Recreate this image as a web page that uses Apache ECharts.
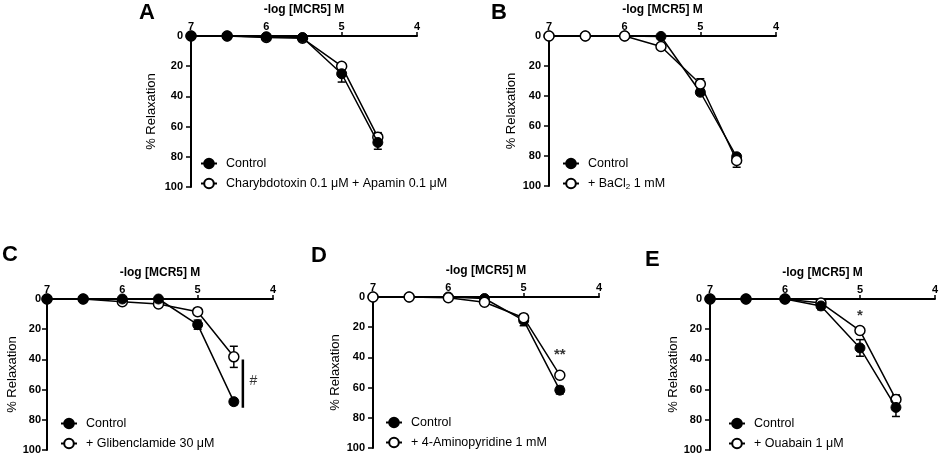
<!DOCTYPE html>
<html lang="en">
<head>
<meta charset="UTF-8">
<title>MCR5 relaxation</title>
<style>html, body { margin: 0; padding: 0; background: #fff; }</style>
</head>
<body>
<div id="main" style="width: 941px; height: 456px;"></div>
<script src="https://cdn.jsdelivr.net/npm/echarts@6/dist/echarts.min.js"></script>
<script type="text/javascript">
// -log [MCR5] M : 1e-7, 3e-7, 1e-6, 3e-6, 1e-5, 3e-5
var logConc = [7, 6.52, 6, 5.52, 5, 4.52];
var panelLetters = ['A', 'B', 'C', 'D', 'E'];
var drugNames = ['Charybdotoxin 0.1 μM + Apamin 0.1 μM', '+ BaCl2 1 mM', '+ Glibenclamide 30 μM',
                 '+ 4-Aminopyridine 1 mM', '+ Ouabain 1 μM'];

// % relaxation (mean) and SEM
var ctrlA = [0, 0, 0.5, 1, 25, 70.5];
var ctrlErrA = [0, 0, 0.5, 0.5, 5.5, 4.5];
var drugA = [0, 0, 1, 1.5, 20, 67];
var drugErrA = [0, 0, 0.5, 0.5, 1.5, 3];

var ctrlB = [0, 0, 0, 0.3, 37.5, 80.5];
var ctrlErrB = [0, 0, 0, 0.5, 2, 2];
var drugB = [0, 0, 0, 7, 32, 83];
var drugErrB = [0, 0, 0, 1, 3.5, 4.5];

var ctrlC = [0, 0, 0, 0, 17, 68];
var ctrlErrC = [0, 0, 0, 0.5, 3, 2];
var drugC = [0, 0, 1.8, 3.3, 8.4, 38.3];
var drugErrC = [0, 0, 0.5, 1, 2, 7];

var ctrlD = [0, 0, 0, 1, 15.5, 61.7];
var ctrlErrD = [0, 0, 0, 0.5, 3.5, 2.5];
var drugD = [0, 0, 0.5, 3.5, 13.7, 51.8];
var drugErrD = [0, 0, 0.5, 1, 2, 1.5];

var ctrlE = [0, 0, 0, 4.6, 32.4, 71.8];
var ctrlErrE = [0, 0, 0, 2.5, 5.5, 6];
var drugE = [0, 0, 0, 2.6, 20.9, 66.5];
var drugErrE = [0, 0, 0, 1, 2, 3];

// significance marks: [x, y, text]
var sigC = [4.26, 54.5, '#'];
var sigBarC = [[4.40, 40], [4.40, 72]];
var sigD = [4.52, 38, '**'];
var sigE = [5.0, 11, '*'];

var ctrl = [ctrlA, ctrlB, ctrlC, ctrlD, ctrlE];
var ctrlErr = [ctrlErrA, ctrlErrB, ctrlErrC, ctrlErrD, ctrlErrE];
var drug = [drugA, drugB, drugC, drugD, drugE];
var drugErr = [drugErrA, drugErrB, drugErrC, drugErrD, drugErrE];
var controlOnTop = [true, false, true, false, true];

var FONT = 'Liberation Sans, Arial, sans-serif';

var grids = [
  {left: 191, top: 36, width: 226, height: 151},
  {left: 549, top: 36, width: 227, height: 150},
  {left: 47, top: 299, width: 226, height: 151},
  {left: 373, top: 297, width: 226, height: 151},
  {left: 710, top: 299, width: 225, height: 151}
];
var yNameGap = [33, 31, 22, 31, 29];
var yLabelMargin = [8, 8, 6, 8, 8];
var legendPos = [[200, 157], [562, 157], [60, 417], [385, 416], [728, 417]];
var letterPos = [[139, 13], [491, 13], [2, 255], [311, 256], [645, 260]];

function pairs(ys) {
  return logConc.map(function (x, i) { return [x, ys[i]]; });
}
function errData(ys, es) {
  return logConc.map(function (x, i) { return [x, ys[i], es[i]]; });
}

function renderErr(params, api) {
  var e = api.value(2);
  if (!e) return null;
  var x = api.value(0), y = api.value(1);
  var top = api.coord([x, y - e]);
  var bot = api.coord([x, y + e]);
  var style = {stroke: '#000', lineWidth: 1.5};
  return {
    type: 'group',
    children: [
      {type: 'line', shape: {x1: top[0], y1: top[1], x2: bot[0], y2: bot[1]}, style: style},
      {type: 'line', shape: {x1: top[0] - 4, y1: top[1], x2: top[0] + 4, y2: top[1]}, style: style},
      {type: 'line', shape: {x1: bot[0] - 4, y1: bot[1], x2: bot[0] + 4, y2: bot[1]}, style: style}
    ]
  };
}

var xAxes = [], yAxes = [], series = [], legends = [], graphics = [];

for (var p = 0; p < 5; p++) {
  xAxes.push({
    gridIndex: p, type: 'value', position: 'top', inverse: true,
    min: 4, max: 7, interval: 1,
    name: '-log [MCR5] M', nameLocation: 'middle', nameGap: 20,
    nameTextStyle: {fontFamily: FONT, fontWeight: 'bold', fontSize: 12, color: '#000'},
    axisLine: {onZero: false, lineStyle: {color: '#000', width: 2}},
    axisTick: {length: 4, lineStyle: {color: '#000', width: 1.5}},
    axisLabel: {margin: 4, fontFamily: FONT, fontWeight: 'bold', fontSize: 11, color: '#000'},
    splitLine: {show: false}
  });
  yAxes.push({
    gridIndex: p, type: 'value', inverse: true,
    min: 0, max: 100, interval: 20,
    name: '% Relaxation', nameLocation: 'middle', nameGap: yNameGap[p],
    nameTextStyle: {fontFamily: FONT, fontSize: 13, color: '#000'},
    axisLine: {show: true, onZero: false, lineStyle: {color: '#000', width: 2}},
    axisTick: {show: true, length: 5, lineStyle: {color: '#000', width: 1.5}},
    axisLabel: {margin: yLabelMargin[p], fontFamily: FONT, fontWeight: 'bold', fontSize: 11, color: '#000'},
    splitLine: {show: false}
  });

  var zc = controlOnTop[p] ? 4 : 3;
  var zd = controlOnTop[p] ? 3 : 4;

  series.push({
    name: 'Control', type: 'line', xAxisIndex: p, yAxisIndex: p, z: zc,
    data: pairs(ctrl[p]), clip: false,
    symbol: 'circle', symbolSize: 10,
    itemStyle: {color: '#000', borderColor: '#000', borderWidth: 1},
    lineStyle: {color: '#000', width: 1.5}
  });
  series.push({
    name: drugNames[p], type: 'line', xAxisIndex: p, yAxisIndex: p, z: zd,
    data: pairs(drug[p]), clip: false,
    symbol: 'circle', symbolSize: 10,
    itemStyle: {color: '#fff', borderColor: '#000', borderWidth: 1.5},
    lineStyle: {color: '#000', width: 1.5}
  });
  series.push({
    name: 'err-ctrl-' + p, type: 'custom', xAxisIndex: p, yAxisIndex: p, z: 1,
    renderItem: renderErr, data: errData(ctrl[p], ctrlErr[p]), clip: false, silent: true
  });
  series.push({
    name: 'err-drug-' + p, type: 'custom', xAxisIndex: p, yAxisIndex: p, z: 1,
    renderItem: renderErr, data: errData(drug[p], drugErr[p]), clip: false, silent: true
  });

  legends.push({
    orient: 'vertical', left: legendPos[p][0], top: legendPos[p][1], padding: 0,
    itemWidth: 16, itemHeight: 12, itemGap: 7,
    data: ['Control', drugNames[p]],
    selectedMode: false,
    textStyle: {
      fontFamily: FONT, fontSize: 12.5, color: '#000', padding: [0, 0, 0, 4],
      rich: {
        t: {fontFamily: FONT, fontSize: 12.5, color: '#000'},
        sub: {fontFamily: FONT, fontSize: 8, color: '#000', verticalAlign: 'bottom', padding: [6, 0, 0, 0]}
      }
    },
    formatter: function (name) {
      if (name === '+ BaCl2 1 mM') return '{t|+ BaCl}{sub|2}{t| 1 mM}';
      return name;
    }
  });

  graphics.push({
    type: 'text', left: letterPos[p][0], top: letterPos[p][1] - 11,
    style: {text: panelLetters[p], font: 'bold 22px ' + FONT, fill: '#000'}
  });
}

// significance bar and marks
series.push({
  name: 'sig-bar', type: 'line', xAxisIndex: 2, yAxisIndex: 2, data: sigBarC, symbol: 'none', clip: false,
  lineStyle: {color: '#000', width: 2.5}, silent: true, z: 2
});
[[2, sigC, 14, 'normal'], [3, sigD, 15, 'bold'], [4, sigE, 15, 'bold']].forEach(function (s) {
  series.push({
    name: 'sig-' + s[0], type: 'scatter', xAxisIndex: s[0], yAxisIndex: s[0], data: [[s[1][0], s[1][1]]],
    symbolSize: 1, itemStyle: {color: 'rgba(0,0,0,0)'}, silent: true, clip: false,
    label: {show: true, position: 'inside', formatter: s[1][2],
            fontFamily: FONT, fontSize: s[2], fontWeight: s[3], color: '#000'}
  });
});

var myChart = echarts.init(document.getElementById('main'));
myChart.setOption({
  animation: false,
  backgroundColor: '#fff',
  grid: grids,
  xAxis: xAxes,
  yAxis: yAxes,
  legend: legends,
  graphic: graphics,
  series: series
});
</script>
</body>
</html>
